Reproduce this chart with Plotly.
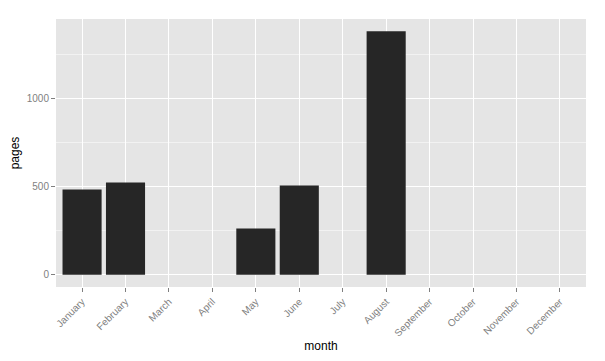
import plotly.graph_objects as go

months = ["January", "February", "March", "April", "May", "June", "July",
          "August", "September", "October", "November", "December"]
pages = [483, 523, None, None, 263, 506, None, 1380, None, None, None, None]
y_ticks = [0, 500, 1000]

fig = go.Figure(go.Bar(x=months, y=pages, marker=dict(color="#262626", line=dict(width=0)),
                       width=0.9, hoverinfo="x+y"))

fig.update_layout(
    width=597, height=353,
    margin=dict(l=48, r=19, t=11, b=74),
    paper_bgcolor="white", plot_bgcolor="#E5E5E5",
    font=dict(family="Liberation Sans, Arial, sans-serif", color="black"),
    showlegend=False,
    xaxis=dict(
        type="category", categoryorder="array", categoryarray=months,
        range=[-0.6, 11.6], showgrid=True, gridcolor="white", gridwidth=1,
        ticks="outside", ticklen=4, tickcolor="#7F7F7F", tickwidth=1,
        tickangle=-45, tickfont=dict(size=10, color="#7F7F7F"),
        title=dict(text="month", font=dict(size=12, color="black"), standoff=4),
        zeroline=False, automargin=False, showline=False,
    ),
    yaxis=dict(
        range=[-69, 1449], tickvals=y_ticks, ticktext=[str(v) for v in y_ticks],
        showgrid=True, gridcolor="white", gridwidth=1,
        minor=dict(tickvals=[250, 750, 1250], showgrid=True, gridcolor="#F2F2F2", gridwidth=1, ticks=""),
        ticks="outside", ticklen=4, tickcolor="#7F7F7F", tickwidth=1,
        tickfont=dict(size=10, color="#7F7F7F"),
        title=dict(text="pages", font=dict(size=12, color="black"), standoff=8),
        zeroline=False, automargin=False, showline=False,
    ),
)

fig.write_html("out.html")
